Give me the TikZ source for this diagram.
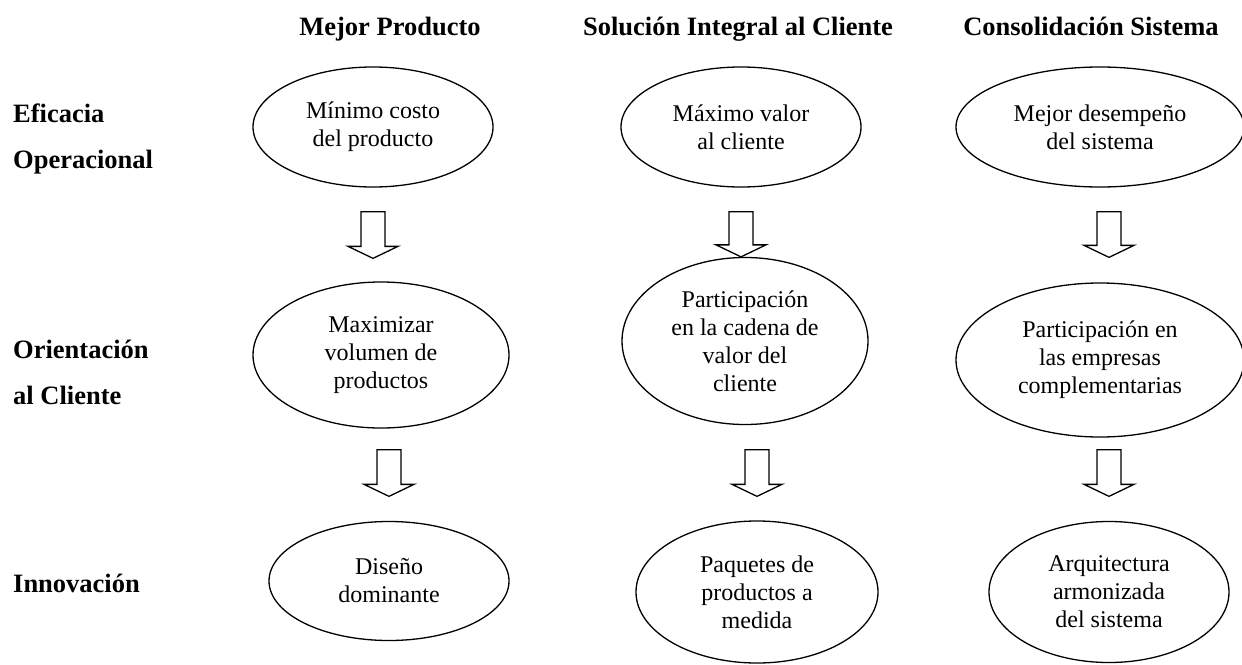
\documentclass[tikz,border=0pt]{standalone}
\usepackage{fontspec}
\setmainfont{Liberation Serif}
\usetikzlibrary{calc}
\usetikzlibrary{positioning}
\usetikzlibrary{shapes.geometric}

\begin{document}
\begin{tikzpicture}[
  x=1pt, y=-1pt,
  every node/.style={inner sep=0pt},
  head/.style = {anchor=base, font=\fontsize{26.5}{30}\selectfont\bfseries},
  rowlab/.style = {anchor=west, align=left, font=\fontsize{26.5}{46}\selectfont\bfseries},
  oval/.style = {draw, ellipse, line width=1.3pt, align=center, font=\fontsize{24}{28}\selectfont},
  hollow/.style = {draw, line width=1.3pt, line join=miter, to path={
      let \p1=(\tikztostart), \p2=(\tikztotarget) in
      (\x1-12pt,\y1) -- (\x1+12pt,\y1) -- (\x1+12pt,\y2+12pt) -- (\x1+25pt,\y2+12pt)
      -- (\x1,\y2) -- (\x1-25pt,\y2+12pt) -- (\x1-12pt,\y2+12pt) -- cycle}}
  ]
  \useasboundingbox (0,0) rectangle (1242,664);

	% column and row titles
	\node[head] (h1) at (390,35) {Mejor Producto};
	\node[head] (h2) at (738,35) {Soluci\'on Integral al Cliente};
	\node[head] (h3) at (1091,35) {Consolidaci\'on Sistema};

	\node[rowlab] (r1) at (13,139) {Eficacia\\Operacional};
	\node[rowlab] (r2) at (13,372) {Orientaci\'on\\al Cliente};
	\node[rowlab] (r3) at (13,583) {Innovaci\'on};

	% ellipses
	\node[oval, minimum width=240, minimum height=120] (e1) at (373,127) {M\'inimo costo\\del producto};
	\node[oval, minimum width=240, minimum height=120] (e2) at (741,127) {M\'aximo valor\\al cliente};
	\node[oval, minimum width=288, minimum height=120] (e3) at (1100,127) {Mejor desempe\~no\\del sistema};

	\node[oval, minimum width=256, minimum height=146] (f1) at (381,355) {Maximizar\\volumen de\\productos};
	\node[oval, minimum width=246, minimum height=167] (f2) at (745,341) {Participaci\'on\\en la cadena de\\valor del\\cliente};
	\node[oval, minimum width=288, minimum height=154] (f3) at (1100,360) {Participaci\'on en\\las empresas\\complementarias};

	\node[oval, minimum width=240, minimum height=119] (g1) at (389,581) {Dise\~no\\dominante};
	\node[oval, minimum width=242, minimum height=142] (g2) at (757,592) {Paquetes de\\productos a\\medida};
	\node[oval, minimum width=240, minimum height=141] (g3) at (1109,592) {Arquitectura\\armonizada\\del sistema};

	% block arrows
	\draw[hollow] ([yshift=-24pt]e1.south) to ([yshift=23pt]f1.north);
	\draw[hollow] ([yshift=-24pt]e2.south) to (f2.north);
	\draw[hollow] ([xshift=9pt,yshift=-24pt]e3.south) to ([yshift=25pt]f3.north);

	\draw[hollow] ([xshift=8pt,yshift=-21pt]f1.south) to ([yshift=24.5pt]g1.north);
	\draw[hollow] ([xshift=12pt,yshift=-24.5pt]f2.south) to ([yshift=24pt]g2.north);
	\draw[hollow] ([xshift=9pt,yshift=-12pt]f3.south) to ([yshift=24.5pt]g3.north);

\end{tikzpicture}
\end{document}
